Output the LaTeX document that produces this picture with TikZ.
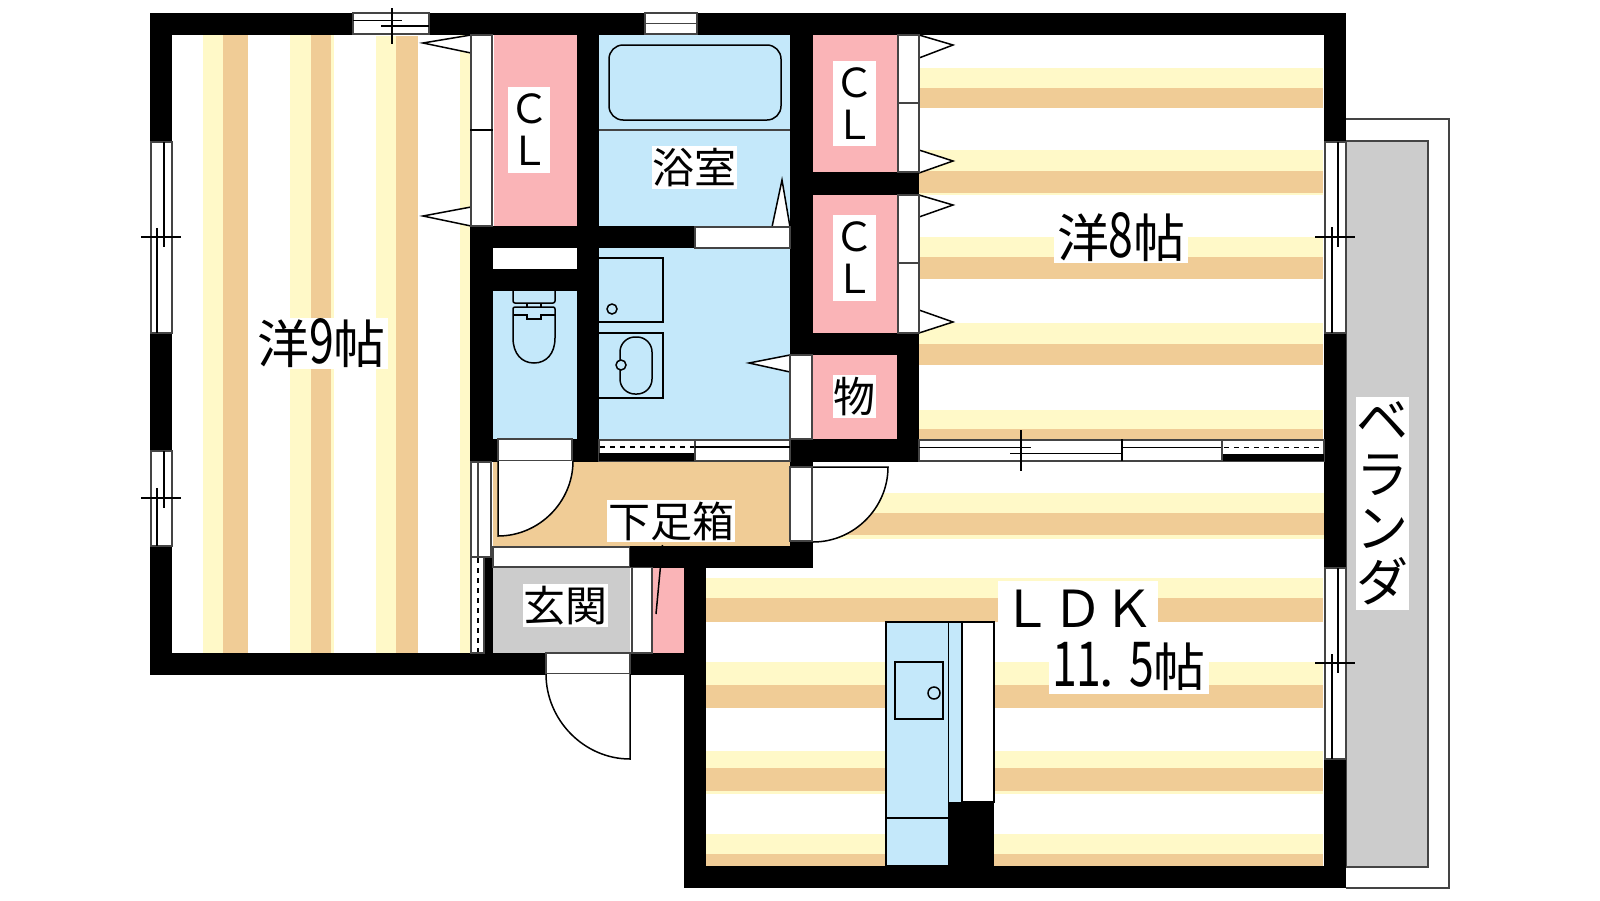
\documentclass[tikz,border=0pt]{standalone}
\usepackage{fontspec}
\usepackage{graphicx}
\setmainfont{Noto Sans CJK JP}
\definecolor{stripeY}{HTML}{FFF9C8}
\definecolor{stripeT}{HTML}{F0CC96}
\definecolor{roomP}{HTML}{FAB4B7}
\definecolor{roomB}{HTML}{C4E8FA}
\definecolor{roomG}{HTML}{CCCCCC}
\definecolor{lineG}{HTML}{444444}
\tikzset{
  wall/.style={fill=black},
  sy/.style={fill=stripeY},
  st/.style={fill=stripeT},
  pinkroom/.style={fill=roomP},
  blueroom/.style={fill=roomB},
  greyroom/.style={fill=roomG},
  strip/.style={fill=white,draw=lineG,line width=0.8pt},
  ln/.style={draw=black,line width=0.75pt},
  thn/.style={draw=lineG,line width=0.75pt},
  flap/.style={fill=white,draw=black,line width=0.75pt},
  dsh/.style={draw=black,line width=0.8pt,dash pattern=on 2.5pt off 2.5pt},
  labelbox/.style={fill=white,inner sep=0pt,align=center},
}
\newcommand\lab[7]{%
  \pgfmathsetmacro\cx{(#2+#4)/2}%
  \pgfmathsetmacro\cy{(#3+#5)/2}%
  \pgfmathsetmacro\bw{(#4-#2)*0.5}%
  \pgfmathsetmacro\bh{(#5-#3)*0.5}%
  \node[labelbox,minimum width=\bw pt,minimum height=\bh pt,font=#6] (#1) at (\cx,\cy) {#7};}
\newcommand\narrow[1]{\makebox[12pt]{\scalebox{0.72}[1]{\fontsize{31pt}{31pt}\selectfont #1}}}
\newcommand\fs[2]{\fontsize{#1pt}{#2pt}\selectfont}
\begin{document}
\begin{tikzpicture}[x=0.5pt,y=-0.5pt]
\useasboundingbox (0,0) rectangle (1600,900);
\fill[white] (0,0) rectangle (1600,900);
% balcony
\draw[thn,fill=white] (1346,119) -- (1449,119) -- (1449,888) -- (1346,888);
\draw[thn,fill=roomG] (1346,141) -- (1428,141) -- (1428,867) -- (1346,867) -- cycle;
% room 9 stripes
\fill[sy] (203,35) rectangle (223,653);
\fill[st] (223,35) rectangle (248,653);
\fill[sy] (290,35) rectangle (311,653);
\fill[st] (311,35) rectangle (331,653);
\fill[sy] (331,35) rectangle (334,653);
\fill[sy] (376,36) rectangle (396,653);
\fill[st] (396,36) rectangle (418,653);
\fill[sy] (460,35) rectangle (471,653);
% room 8 stripes
\fill[sy] (919,68) rectangle (1323,88);
\fill[st] (919,88) rectangle (1323,108);
\fill[sy] (919,150) rectangle (1323,171);
\fill[st] (919,171) rectangle (1323,193);
\fill[sy] (919,193) rectangle (1323,195);
\fill[sy] (919,237) rectangle (1323,257);
\fill[st] (919,257) rectangle (1323,279);
\fill[sy] (919,323) rectangle (1323,344);
\fill[st] (919,344) rectangle (1323,365);
\fill[sy] (919,410) rectangle (1323,429);
\fill[st] (919,429) rectangle (1323,440);
% LDK stripes
\fill[sy] (813,493) rectangle (1324,513);
\fill[st] (813,513) rectangle (1324,535);
\fill[sy] (813,535) rectangle (1324,539);
\fill[sy] (706,578) rectangle (1323,598);
\fill[st] (706,598) rectangle (1323,622);
\fill[sy] (706,662) rectangle (1323,685);
\fill[st] (706,685) rectangle (1323,708);
\fill[sy] (706,751) rectangle (1323,768);
\fill[st] (706,768) rectangle (1323,791);
\fill[sy] (706,791) rectangle (1323,794);
\fill[sy] (706,834) rectangle (1323,854);
\fill[st] (706,854) rectangle (1323,866);
% rooms
\fill[pinkroom] (494,35) rectangle (577,226);
\fill[blueroom] (599,35) rectangle (790,226);
\fill[blueroom] (599,248) rectangle (790,439);
\fill[blueroom] (493,291) rectangle (577,439);
\fill[pinkroom] (813,35) rectangle (897,173);
\fill[pinkroom] (813,195) rectangle (897,333);
\fill[pinkroom] (813,355) rectangle (897,439);
\fill[st] (493,462) rectangle (790,546);
\fill[greyroom] (493,568) rectangle (630,653);
\fill[pinkroom] (653,567) rectangle (684,653);
% walls
\fill[wall] (150,13) rectangle (1346,35);
\fill[wall] (150,13) rectangle (172,675);
\fill[wall] (150,653) rectangle (684,675);
\fill[wall] (684,546) rectangle (706,888);
\fill[wall] (684,866) rectangle (1346,888);
\fill[wall] (1324,13) rectangle (1346,888);
\fill[wall] (577,13) rectangle (599,462);
\fill[wall] (470,226) rectangle (493,462);
\fill[wall] (470,226) rectangle (695,248);
\fill[wall] (493,269) rectangle (577,291);
\fill[wall] (470,439) rectangle (599,462);
\fill[wall] (790,13) rectangle (813,355);
\fill[wall] (813,172) rectangle (919,195);
\fill[wall] (790,333) rectangle (919,355);
\fill[wall] (897,333) rectangle (919,462);
\fill[wall] (790,439) rectangle (919,462);
\fill[wall] (790,439) rectangle (813,467);
\fill[wall] (630,546) rectangle (813,568);
\fill[wall] (790,541) rectangle (813,568);
\fill[wall] (484,557) rectangle (493,653);
% top windows
\draw[strip] (353,13) rectangle (429,34);
\draw[ln] (353,20.5) -- (402,20.5);
\draw[ln] (381,26) -- (429,26);
\draw[ln] (392,8) -- (392,44);
\draw[strip] (645,13) rectangle (697,34);
\draw[thn] (645,23.5) -- (697,23.5);
% left windows
\draw[strip] (151,142) rectangle (172,333);
\draw[ln] (164,142) -- (164,247);
\draw[ln] (157,228) -- (157,333);
\draw[ln] (141,237) -- (181,237);
\draw[strip] (151,451) rectangle (172,546);
\draw[ln] (164,451) -- (164,508);
\draw[ln] (157,488) -- (157,546);
\draw[ln] (141,498) -- (181,498);
% right windows
\draw[strip] (1325,142) rectangle (1346,333);
\draw[ln] (1338,142) -- (1338,247);
\draw[ln] (1332,227) -- (1332,333);
\draw[ln] (1315,237) -- (1355,237);
\draw[strip] (1325,568) rectangle (1346,759);
\draw[ln] (1338,568) -- (1338,673);
\draw[ln] (1332,654) -- (1332,759);
\draw[ln] (1315,663) -- (1355,663);
% LDK / room 8 window strip
\draw[strip] (919,440) rectangle (1324,461);
\fill[wall] (1222,453.5) rectangle (1324,461);
\draw[ln] (919,447.5) -- (1031,447.5);
\draw[ln] (1010,453.5) -- (1122,453.5);
\draw[ln] (1021,430) -- (1021,471);
\draw[ln] (1122,439) -- (1122,461);
\draw[ln] (1122,447.5) -- (1222,447.5);
\draw[thn] (1222,440) -- (1222,461);
\draw[dsh] (1224,447.5) -- (1322,447.5);
% closets: room 9
\draw[flap] (471,35) -- (423,43) -- (471,53);
\draw[flap] (471,207) -- (423,216) -- (471,226);
\draw[strip] (471,35) rectangle (492,226);
\draw[ln] (470,130) -- (493,130);
% closets: room 8
\draw[flap] (919,35) -- (953,45) -- (919,58);
\draw[flap] (919,150) -- (953,161) -- (919,173);
\draw[flap] (919,195) -- (953,205) -- (919,217);
\draw[flap] (919,310) -- (953,322) -- (919,333);
\draw[strip] (898,35) rectangle (919,172);
\draw[thn] (898,103) -- (919,103);
\draw[strip] (898,195) rectangle (919,333);
\draw[thn] (898,263) -- (919,263);
% bath
\draw[thn] (599,130) -- (790,130);
\draw[ln,rounded corners=7pt] (609,45) rectangle (781,120);
\fill[white] (493,248) rectangle (577,269);
\draw[flap] (772,227) -- (782,180) -- (790,227);
\draw[strip] (695,227) rectangle (790,248);
% toilet
\draw[ln,rounded corners=1pt] (513,291) -- (513,303) -- (555,303) -- (555,291);
\draw[ln] (527,303) -- (527,307);
\draw[ln] (541,303) -- (541,307);
\draw[ln] (515,307) -- (553,307) .. controls (554.5,307) and (555,308) .. (555,309) -- (555,338)
  .. controls (555,354) and (546,363) .. (534,363) .. controls (522,363) and (513,354) .. (513,338)
  -- (513,309) .. controls (513,308) and (513.5,307) .. (515,307) -- cycle;
\draw[ln] (513,315) -- (527,315) -- (527,319) -- (541,319) -- (541,315) -- (555,315);
% washroom fixtures
\draw[ln] (599,258) -- (663,258) -- (663,322) -- (599,322);
\draw[ln] (612,309) circle[radius=5];
\draw[ln] (599,333) -- (663,333) -- (663,398) -- (599,398);
\draw[ln,rounded corners=7.5pt] (620,337) rectangle (652,394);
\draw[ln,fill=roomB] (621,365) circle[radius=5];
% store door
\draw[flap] (790,355) -- (749,363) -- (790,372);
\draw[strip] (790,355) rectangle (812,439);
% door strips
\draw[strip] (498,439) rectangle (572,461);
\draw[strip] (599,440) rectangle (790,461);
\fill[wall] (599,453) rectangle (695,461);
\draw[thn] (695,440) -- (695,461);
\draw[ln] (695,447) -- (790,447);
\draw[dsh] (600,447) -- (694,447);
% toilet door
\draw[ln,fill=white] (498,461) -- (498,536) .. controls (539,536) and (573,502) .. (573,461);
% left sliding door
\draw[strip] (471,462) rectangle (491,557);
\draw[thn] (478,462) -- (478,557);
\draw[strip] (471,557) rectangle (484,653);
\draw[dsh] (478,558) -- (478,652);
% entry
\draw[strip] (493,547) rectangle (630,567);
\draw[strip] (632,567) rectangle (652,653);
\draw[ln] (662.5,545) -- (656,614);
\fill[wall] (630,546) rectangle (813,567);
% hall right door
\draw[strip] (790,467) rectangle (812,541);
\draw[ln,fill=white] (813,542) .. controls (854,542) and (888,508) .. (888,467) -- (813,467);
% front door
\draw[strip] (546,653) rectangle (630,674);
\draw[ln,fill=white] (630,674) -- (630,759) .. controls (584,759) and (546,720) .. (546,674);
% kitchen
\draw[ln,fill=roomB] (886,622) rectangle (949,866);
\draw[ln] (886,818) -- (949,818);
\draw[ln] (895,662) rectangle (943,719);
\draw[ln] (934,693) circle[radius=6];
\fill[blueroom] (949,622) rectangle (962,802);
\draw[ln] (949,622) -- (994,622);
\draw[ln,fill=white] (962,622) rectangle (994,802);
\fill[wall] (950,802) rectangle (994,866);
% labels
\lab{lcla}{508}{87}{550}{173}{\fs{20}{21}}{Ｃ\\Ｌ}
\lab{lclb}{833}{61}{876}{146}{\fs{20}{21}}{Ｃ\\Ｌ}
\lab{lclc}{833}{215}{876}{301}{\fs{20}{21}}{Ｃ\\Ｌ}
\lab{lbath}{652}{146}{737}{189}{\fs{21}{21}}{浴室}
\lab{lstore}{833}{375}{876}{418}{\fs{21}{21}}{物}
\lab{lhall}{607}{500}{735}{542}{\fs{21}{21}}{下足箱}
\lab{lentry}{523}{584}{608}{627}{\fs{21}{21}}{玄関}
\lab{lr8}{1054}{212}{1188}{263}{\fs{26}{26}}{洋\narrow{8}帖}
\lab{lr9}{255}{318}{388}{369}{\fs{26}{26}}{洋\narrow{9}帖}
\lab{lldk}{998}{581}{1158}{622}{\fs{25.5}{25.5}}{\raisebox{-12.8pt}[0pt][0pt]{ＬＤＫ}}
\lab{lsize}{1049}{638}{1209}{694}{\fs{26}{26}}{\narrow{1}\narrow{1}\makebox[14.5pt]{.\hspace*{8pt}}\narrow{5}帖}
\lab{lver}{1356}{397}{1409}{610}{\fs{26}{27}}{ベ\\ラ\\ン\\ダ}
\end{tikzpicture}
\end{document}
